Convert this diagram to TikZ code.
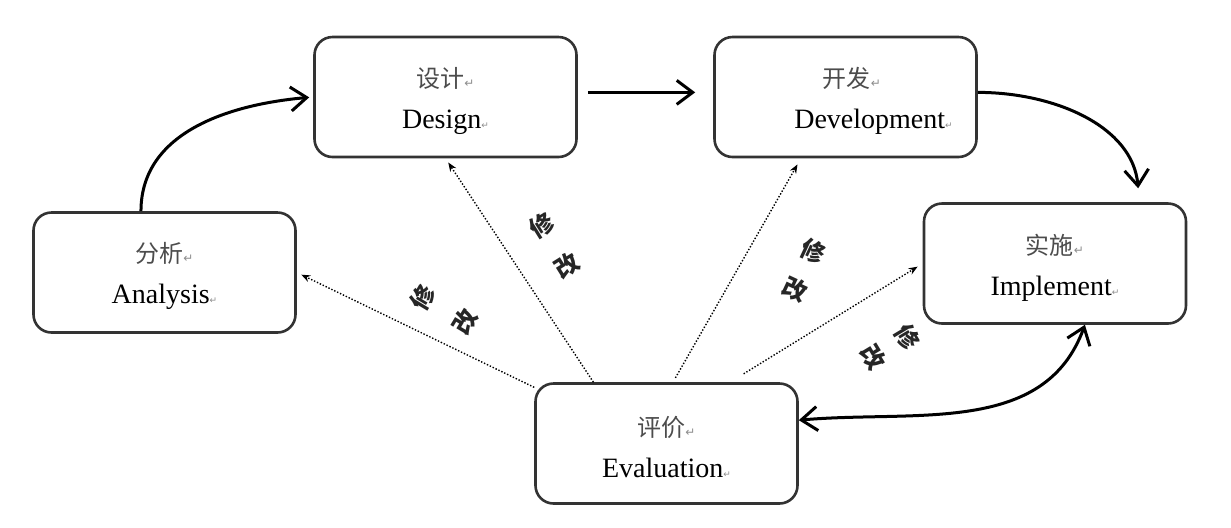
\documentclass[tikz,border=0pt]{standalone}
\usepackage{fontspec}
\setmainfont{Liberation Serif}
\newfontfamily\cjk{Noto Sans CJK SC}
\newfontfamily\symfont{DejaVu Sans}
\usetikzlibrary{arrows.meta}

\newcommand\retmark{{\symfont\fontsize{6pt}{6pt}\selectfont\color{black!45}↵}}
\newcommand\retmarksm{{\symfont\fontsize{4.5pt}{4.5pt}\selectfont\color{black!45}↵}}
\newcommand\stagetext[2]{\rule{0pt}{14pt}{\cjk\fontsize{12pt}{20.5pt}\selectfont\color{black!70}#1}\retmark\\#2\retmarksm}

\begin{document}
\begin{tikzpicture}[x = 0.5pt, y = -0.5pt, >={Straight Barb[length = 8pt, width = 12pt]},
    stage/.style = {draw = black!80, line width = 1.3pt, rounded corners = 9pt, minimum width = 131pt, minimum height = 60pt, align = center, inner sep = 0pt, font = \fontsize{14pt}{20.5pt}\selectfont},
    flow/.style = {line width = 1.5pt, ->},
    revise/.style = {line width = 0.7pt, dash pattern = on 0.7pt off 0.9pt, -{Stealth[length = 4.5pt, width = 3.5pt]}},
    modword/.style = {font = \cjk\bfseries\fontsize{12pt}{12pt}\selectfont, text = black!85, inner sep = 0pt}]
  \useasboundingbox (0, 0) rectangle (1231, 527);

  % stages
  \node[stage] (design) at (445.5, 97) {\stagetext{设计}{Design}};
  \node[stage] (dev) at (845.5, 97) {\stagetext{\hspace*{6.5pt}开发}{\hspace*{28pt}Development}};
  \node[stage] (ana) at (164.5, 272.5) {\stagetext{分析}{Analysis}};
  \node[stage] (impl) at (1055, 263.5) {\stagetext{实施}{Implement}};
  \node[stage] (eval) at (666.5, 443.5) {\stagetext{评价}{Evaluation}};

  % main cycle
  \draw[flow, shorten >= 2pt] (ana.111) to [out = 90, in = 185] (design.west);
  \draw[flow, shorten <= 5pt, shorten >= 9pt] (design.2) -- (dev.178);
  \draw[flow, shorten >= 7pt] (dev.2) to [out = 0, in = 95] (impl.36);
  \draw[flow, <->] (eval.10) to [out = 5, in = 250] (impl.-64);

  % revisions
  \draw[revise, shorten >= 2.5pt] (eval.157) -- (ana.east);
  \draw[revise, shorten >= 2.5pt] (eval.140) -- (design.south);
  \draw[revise, shorten <= 2.5pt, shorten >= 3.5pt] (eval.84) -- (dev.234);
  \draw[revise, shorten <= 8pt, shorten >= 3pt] (eval.44) -- (impl.west);

  \node[modword, rotate = 59] (m1a) at (423, 297) {修};
  \node[modword, rotate = 59] (m1b) at (465, 322) {改};
  \node[modword, rotate = 32] (m2a) at (542, 225) {修};
  \node[modword, rotate = 32] (m2b) at (567, 265) {改};
  \node[modword, rotate = -25] (m3a) at (813, 251) {修};
  \node[modword, rotate = -25] (m3b) at (795, 289) {改};
  \node[modword, rotate = -59] (m4a) at (907, 337) {修};
  \node[modword, rotate = -59] (m4b) at (873, 357) {改};
\end{tikzpicture}
\end{document}
